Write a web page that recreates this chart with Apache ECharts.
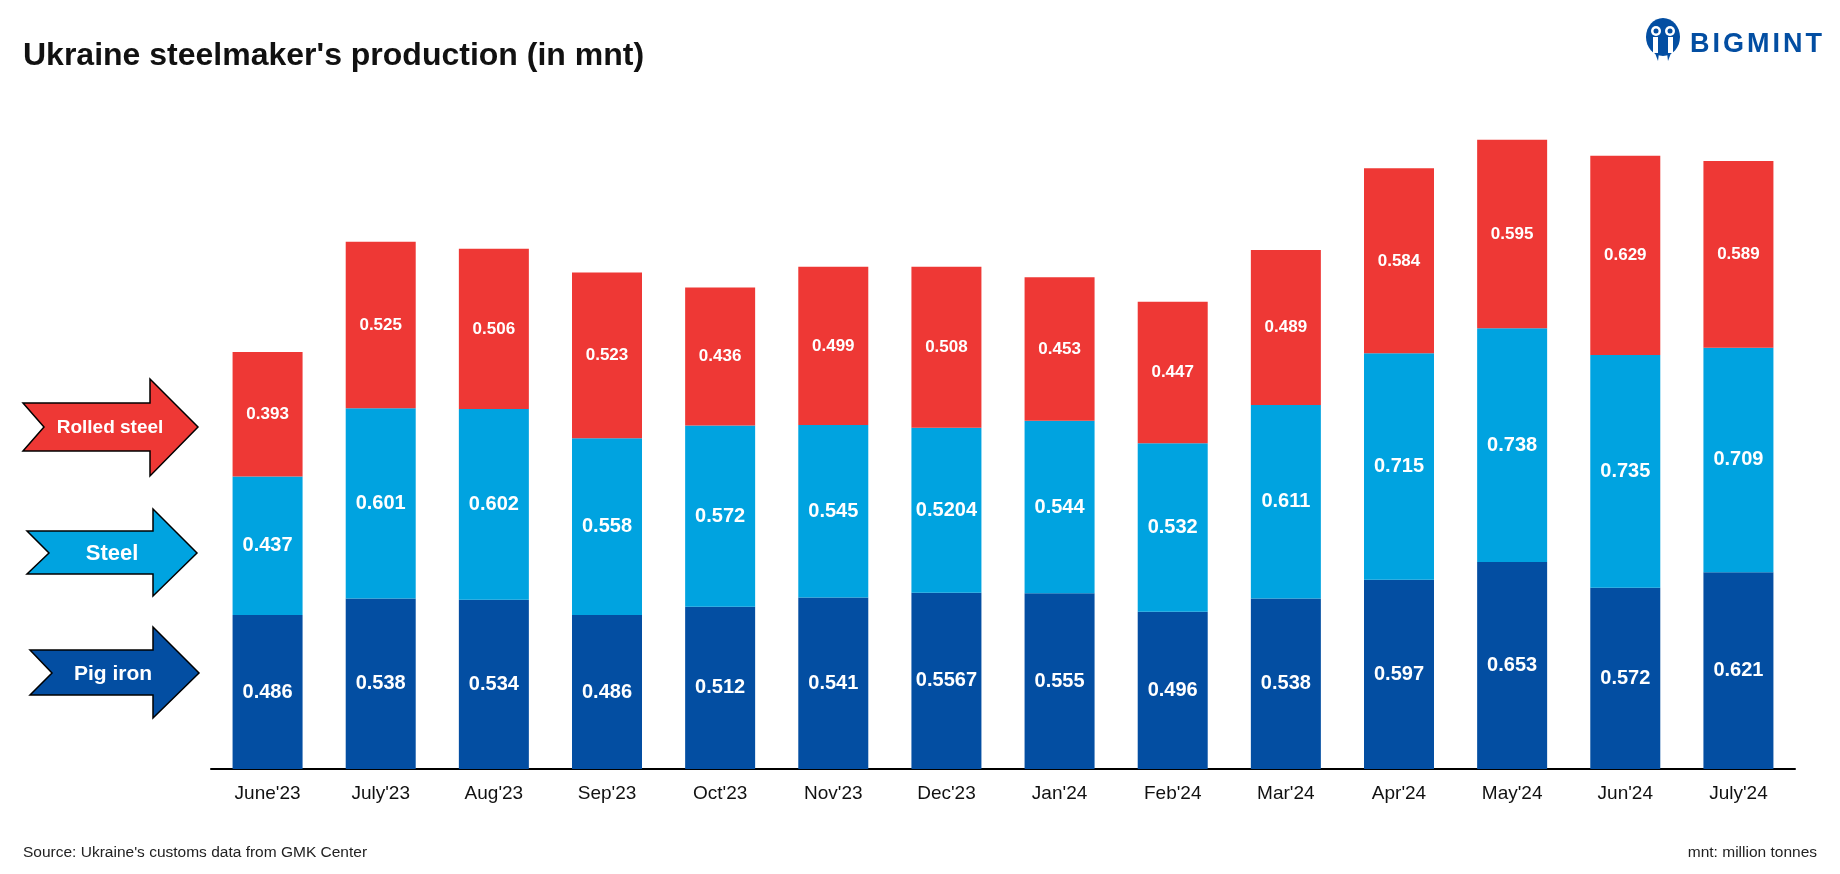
<!DOCTYPE html>
<html>
<head>
<meta charset="utf-8">
<script src="https://cdn.jsdelivr.net/npm/echarts@6/dist/echarts.min.js"></script>
<style>
html,body{margin:0;padding:0;background:#fff;}
#chart{width:1840px;height:874px;}
</style>
</head>
<body>
<div id="chart"></div>
<script>
const months = ["June'23","July'23","Aug'23","Sep'23","Oct'23","Nov'23","Dec'23","Jan'24","Feb'24","Mar'24","Apr'24","May'24","Jun'24","July'24"];
const pigIron = [0.486,0.538,0.534,0.486,0.512,0.541,0.5567,0.555,0.496,0.538,0.597,0.653,0.572,0.621];
const steel = [0.437,0.601,0.602,0.558,0.572,0.545,0.5204,0.544,0.532,0.611,0.715,0.738,0.735,0.709];
const rolledSteel = [0.393,0.525,0.506,0.523,0.436,0.499,0.508,0.453,0.447,0.489,0.584,0.595,0.629,0.589];
const seriesNames = ["Pig iron","Steel","Rolled steel"];

const RED = '#EE3835', CYAN = '#00A3E0', NAVY = '#034EA2';
const FONT = '"Liberation Sans", Arial, sans-serif';

const chart = echarts.init(document.getElementById('chart'));

function arrow(pts, color, label, lx, ly, fs) {
  return [
    {type:'polygon', shape:{points:pts}, style:{fill:color, stroke:'#000', lineWidth:1.5}},
    {type:'text', x:lx, y:ly, style:{text:label, fill:'#fff', font:'bold '+fs+'px '+FONT, textAlign:'center', textVerticalAlign:'middle'}}
  ];
}

const graphics = [
  {type:'text', x:23, y:56, style:{text:"Ukraine steelmaker's production (in mnt)", fill:'#111', font:'bold 32px '+FONT, textVerticalAlign:'middle'}},
  {type:'text', x:23, y:853, style:{text:"Source: Ukraine's customs data from GMK Center", fill:'#222', font:'15.5px '+FONT, textVerticalAlign:'middle'}},
  {type:'text', x:1817, y:853, style:{text:"mnt: million tonnes", fill:'#222', font:'15.5px '+FONT, textAlign:'right', textVerticalAlign:'middle'}},
  // logo icon
  {type:'ellipse', shape:{cx:1663, cy:37, rx:17, ry:19}, style:{fill:NAVY}},
  {type:'circle', shape:{cx:1656, cy:31, r:5}, style:{fill:'#fff'}},
  {type:'circle', shape:{cx:1670, cy:31, r:5}, style:{fill:'#fff'}},
  {type:'circle', shape:{cx:1656, cy:31, r:2.5}, style:{fill:NAVY}},
  {type:'circle', shape:{cx:1670, cy:31, r:2.5}, style:{fill:NAVY}},
  {type:'rect', shape:{x:1653, y:37, width:5, height:16}, style:{fill:'#fff'}},
  {type:'rect', shape:{x:1668, y:37, width:5, height:16}, style:{fill:'#fff'}},
  {type:'polygon', shape:{points:[[1655,53],[1658,61],[1659,53]]}, style:{fill:NAVY}},
  {type:'polygon', shape:{points:[[1667,53],[1668,61],[1671,53]]}, style:{fill:NAVY}}
];
const logoLetters = ['B','I','G','M','I','N','T'];
const logoX = [1690, 1712.5, 1723, 1747, 1772.5, 1783, 1805.5];
logoLetters.forEach((ch, i) => {
  graphics.push({type:'text', x:logoX[i], y:45, style:{text:ch, fill:NAVY, font:'bold 27px '+FONT, textAlign:'left', textVerticalAlign:'middle'}});
});
graphics.push(...arrow([[23,403],[150,403],[150,379],[198,427],[150,476],[150,451],[23,451],[44,427]], RED, 'Rolled steel', 110, 428, 19));
graphics.push(...arrow([[27,531],[153,531],[153,509],[197,553],[153,596],[153,574],[27,574],[49,553]], CYAN, 'Steel', 112, 554, 22));
graphics.push(...arrow([[30,650],[153,650],[153,627],[199,673],[153,718],[153,695],[30,695],[52,673]], NAVY, 'Pig iron', 113, 674, 21));

function bar(name, data, color, fs) {
  return {
    name, type:'bar', stack:'total', data, barWidth:70,
    itemStyle:{color},
    label:{show:true, position:'inside', color:'#fff', fontWeight:'bold', fontSize:fs, fontFamily:FONT,
      formatter:p => String(p.value)},
    emphasis:{disabled:true}
  };
}

chart.setOption({
  animation:false,
  grid:{left:211, right:45, top:72, bottom:105},
  xAxis:{type:'category', data:months,
    axisLine:{lineStyle:{color:'#000', width:2}}, axisTick:{show:false},
    axisLabel:{color:'#111', fontSize:19, fontFamily:FONT, margin:15}},
  yAxis:{type:'value', min:0, max:2.2, show:false, splitLine:{show:false}},
  series:[
    bar(seriesNames[0], pigIron, NAVY, 20),
    bar(seriesNames[1], steel, CYAN, 20),
    bar(seriesNames[2], rolledSteel, RED, 17)
  ],
  graphic:graphics
});
</script>
</body>
</html>
